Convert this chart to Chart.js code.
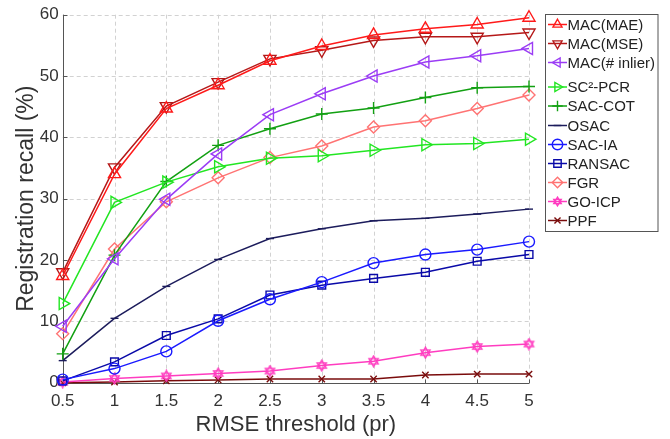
<!DOCTYPE html>
<html>
<head>
<meta charset="utf-8">
<script src="https://cdn.jsdelivr.net/npm/chart.js@4.4.0/dist/chart.umd.min.js"></script>
<style>
html,body{margin:0;padding:0;background:#fff;}
#wrap{width:670px;height:439px;}
</style>
</head>
<body>
<div id="wrap"><canvas id="c" width="670" height="439"></canvas></div>
<script>
const thresholds = [0.5, 1, 1.5, 2, 2.5, 3, 3.5, 4, 4.5, 5];
const macMAE    = [17.4, 34.0, 44.7, 48.5, 52.5, 54.9, 56.7, 57.7, 58.4, 59.5];
const macMSE    = [18.0, 35.1, 45.1, 49.0, 52.8, 54.2, 55.8, 56.4, 56.4, 57.1];
const macInlier = [9.2, 20.2, 29.9, 37.3, 43.7, 47.1, 50.0, 52.3, 53.3, 54.5];
const sc2pcr    = [12.9, 29.4, 32.7, 35.2, 36.6, 37.0, 37.9, 38.8, 39.0, 39.7];
const sacCOT    = [4.7, 20.8, 32.8, 38.7, 41.4, 43.8, 44.8, 46.5, 48.1, 48.3];
const osac      = [3.6, 10.5, 15.7, 20.1, 23.5, 25.1, 26.4, 26.8, 27.5, 28.3];
const sacIA     = [0.5, 2.3, 5.1, 10.1, 13.6, 16.4, 19.5, 20.9, 21.7, 23.0];
const ransac    = [0.3, 3.4, 7.7, 10.4, 14.3, 15.9, 17.0, 18.0, 19.8, 20.9];
const fgr       = [8.0, 21.8, 29.5, 33.4, 36.7, 38.6, 41.7, 42.7, 44.7, 46.9];
const goICP     = [0.1, 0.7, 1.1, 1.5, 1.9, 2.8, 3.5, 4.9, 5.9, 6.3];
const ppf       = [0.0, 0.1, 0.3, 0.45, 0.6, 0.6, 0.6, 1.25, 1.4, 1.4];
const seriesNames = ['MAC(MAE)', 'MAC(MSE)', 'MAC(# inlier)', 'SC²-PCR', 'SAC-COT', 'OSAC', 'SAC-IA', 'RANSAC', 'FGR', 'GO-ICP', 'PPF'];
const yTicks = [0, 10, 20, 30, 40, 50, 60];

const FONT = '"Liberation Sans", Arial, sans-serif';

function hexagram(color, size) {
  const cv = document.createElement('canvas');
  cv.width = size; cv.height = size;
  const g = cv.getContext('2d');
  const c = size / 2, r = size / 2 - 1.2;
  g.strokeStyle = color; g.lineWidth = 1.4;
  for (let k = 0; k < 2; k++) {
    g.beginPath();
    for (let i = 0; i < 3; i++) {
      const a = -Math.PI / 2 + k * Math.PI + i * 2 * Math.PI / 3;
      const px = c + r * Math.cos(a), py = c + r * Math.sin(a);
      if (i === 0) g.moveTo(px, py); else g.lineTo(px, py);
    }
    g.closePath(); g.stroke();
  }
  return cv;
}

const styles = [
  {color: '#ff1a1a', pointStyle: 'triangle', rotation: 0, radius: 7},
  {color: '#b51818', pointStyle: 'triangle', rotation: 180, radius: 7},
  {color: '#9b3cf5', pointStyle: 'triangle', rotation: 270, radius: 7},
  {color: '#22e622', pointStyle: 'triangle', rotation: 90, radius: 7},
  {color: '#12a012', pointStyle: 'cross', rotation: 0, radius: 6},
  {color: '#1c1c5c', pointStyle: 'line', rotation: 0, radius: 4},
  {color: '#1a1aff', pointStyle: 'circle', rotation: 0, radius: 5.5},
  {color: '#0a0aa8', pointStyle: 'rect', rotation: 0, radius: 5.5},
  {color: '#ff7373', pointStyle: 'rectRot', rotation: 0, radius: 6},
  {color: '#ff3cc0', pointStyle: null, rotation: 0, radius: 6},
  {color: '#7a0c0c', pointStyle: 'crossRot', rotation: 0, radius: 4.5}
];
const goImg = hexagram('#ff3cc0', 13);
const goImgSmall = hexagram('#ff3cc0', 11);
styles[9].pointStyle = goImg;

const allSeries = [macMAE, macMSE, macInlier, sc2pcr, sacCOT, osac, sacIA, ransac, fgr, goICP, ppf];

const datasets = allSeries.map((vals, i) => ({
  label: seriesNames[i],
  data: thresholds.map((t, j) => ({x: t, y: vals[j]})),
  borderColor: styles[i].color,
  backgroundColor: 'rgba(0,0,0,0)',
  pointBorderColor: styles[i].color,
  pointBackgroundColor: 'rgba(0,0,0,0)',
  pointStyle: styles[i].pointStyle,
  rotation: styles[i].rotation,
  pointRadius: styles[i].radius,
  pointBorderWidth: 1.4,
  borderWidth: 1.5,
  tension: 0,
  clip: false
}));

const gridPlugin = {
  id: 'dashGrid',
  beforeDatasetsDraw(chart) {
    const ctx = chart.ctx, a = chart.chartArea;
    const xs = chart.scales.x, ys = chart.scales.y;
    ctx.save();
    ctx.strokeStyle = '#d2d2d2';
    ctx.lineWidth = 1;
    ctx.setLineDash([4, 3]);
    thresholds.forEach(t => {
      const px = Math.round(xs.getPixelForValue(t)) + 0.5;
      ctx.beginPath(); ctx.moveTo(px, a.top); ctx.lineTo(px, a.bottom); ctx.stroke();
    });
    yTicks.forEach(v => {
      const py = Math.round(ys.getPixelForValue(v)) + 0.5;
      ctx.beginPath(); ctx.moveTo(a.left, py); ctx.lineTo(a.right, py); ctx.stroke();
    });
    ctx.setLineDash([]);
    ctx.strokeStyle = '#555';
    ctx.beginPath();
    const lx = Math.round(a.left) + 0.5, by = Math.round(a.bottom) + 0.5;
    ctx.moveTo(lx, a.top); ctx.lineTo(lx, by); ctx.lineTo(a.right, by);
    ctx.stroke();
    thresholds.forEach(t => {
      const px = Math.round(xs.getPixelForValue(t)) + 0.5;
      ctx.beginPath(); ctx.moveTo(px, by); ctx.lineTo(px, by - 4); ctx.stroke();
    });
    yTicks.forEach(v => {
      const py = Math.round(ys.getPixelForValue(v)) + 0.5;
      ctx.beginPath(); ctx.moveTo(lx, py); ctx.lineTo(lx + 4, py); ctx.stroke();
    });
    ctx.restore();
  }
};

const legendPlugin = {
  id: 'boxLegend',
  afterDraw(chart) {
    const ctx = chart.ctx;
    const bx = 545.5, by = 14.5, bw = 112.5, bh = 217;
    ctx.save();
    ctx.fillStyle = '#fff';
    ctx.fillRect(bx, by, bw, bh);
    ctx.strokeStyle = '#555';
    ctx.lineWidth = 1;
    ctx.strokeRect(bx, by, bw, bh);
    const ys = [24.5, 43.5, 62.5, 87, 106, 125.5, 144.5, 163.5, 182.5, 201.5, 220.5];
    ctx.font = '15px ' + FONT;
    ctx.textBaseline = 'middle';
    chart.data.datasets.forEach((ds, i) => {
      const y = ys[i];
      const st = styles[i];
      ctx.strokeStyle = st.color;
      ctx.lineWidth = 1.5;
      ctx.beginPath(); ctx.moveTo(548, y); ctx.lineTo(567, y); ctx.stroke();
      if (i === 9) {
        ctx.drawImage(goImgSmall, 557.5 - 5.5, y - 5.5);
      } else {
        ctx.fillStyle = 'rgba(0,0,0,0)';
        ctx.lineWidth = 1.4;
        Chart.helpers.drawPoint(ctx, {pointStyle: st.pointStyle, rotation: st.rotation, radius: Math.min(st.radius, 5.5) * 0.95, borderWidth: 1.4}, 557.5, y);
      }
      ctx.fillStyle = '#222';
      ctx.fillText(ds.label, 567.5, y + 1);
    });
    ctx.restore();
  }
};

new Chart(document.getElementById('c'), {
  type: 'line',
  data: {datasets},
  options: {
    responsive: false,
    animation: false,
    devicePixelRatio: 1,
    layout: {padding: {left: 0, right: 141, top: 14.7, bottom: 0}},
    plugins: {legend: {display: false}, tooltip: {enabled: false}},
    scales: {
      x: {
        type: 'linear',
        min: 0.5, max: 5,
        afterFit(s) { s.height = 56.3; },
        afterBuildTicks(s) { s.ticks = thresholds.map(v => ({value: v})); },
        ticks: {
          color: '#333',
          font: {family: FONT, size: 17},
          padding: 8,
          maxRotation: 0,
          callback: v => String(v)
        },
        grid: {display: false, drawTicks: false},
        border: {display: false},
        title: {display: true, text: 'RMSE threshold (pr)', color: '#333',
          font: {family: FONT, size: 22}, padding: {top: 0, bottom: 1}}
      },
      y: {
        type: 'linear',
        min: 0, max: 60,
        afterFit(s) { s.width = 62.7; },
        afterBuildTicks(s) { s.ticks = yTicks.map(v => ({value: v})); },
        ticks: {
          color: '#333',
          font: {family: FONT, size: 17},
          padding: 4
        },
        grid: {display: false, drawTicks: false},
        border: {display: false},
        title: {display: true, text: 'Registration recall (%)', color: '#333',
          font: {family: FONT, size: 23}, padding: {top: 13, bottom: 0}}
      }
    }
  },
  plugins: [gridPlugin, legendPlugin]
});
</script>
</body>
</html>
